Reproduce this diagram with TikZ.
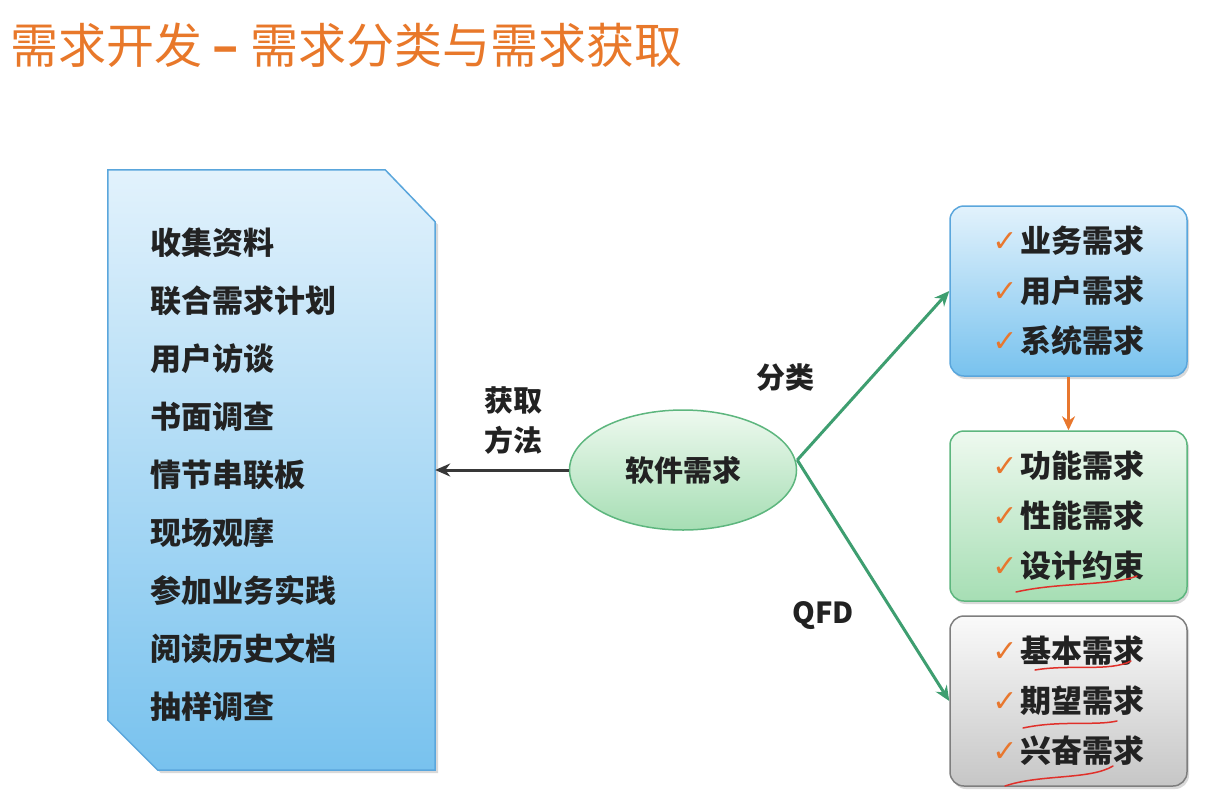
\documentclass[tikz,border=0pt]{standalone}
\usepackage{fontspec}
\setmainfont{Noto Sans CJK SC}
\newfontfamily\symfont{DejaVu Sans}
\usetikzlibrary{shapes.geometric, arrows.meta, positioning, shadows}

\definecolor{titleorange}{HTML}{E8782A}
\definecolor{textdark}{HTML}{222222}
\definecolor{chkorange}{HTML}{E8772E}
\definecolor{linegreen}{HTML}{3E9E70}
\definecolor{bluetop}{HTML}{E2F2FC}
\definecolor{bluebot}{HTML}{78C2EE}
\definecolor{blueedge}{HTML}{5AA6DC}
\definecolor{greentop}{HTML}{EEF9EF}
\definecolor{greenbot}{HTML}{A6DEB4}
\definecolor{greenedge}{HTML}{5DB67E}
\definecolor{graytop}{HTML}{FAFAFA}
\definecolor{graybot}{HTML}{C6C6C6}
\definecolor{grayedge}{HTML}{7E7E7E}
\definecolor{markred}{HTML}{E0302A}

\newcommand{\chk}{{\symfont\fontsize{30}{30}\selectfont\color{chkorange}\raisebox{1pt}{✓}}\hspace{3pt}}

\tikzset{
  catbox/.style={draw=#1, rounded corners=14pt, line width=1.5pt,
    minimum width=237pt, minimum height=170pt, align=left,
    text=textdark, font=\fontsize{31}{50}\selectfont\bfseries,
    drop shadow={shadow xshift=2pt, shadow yshift=-3pt, opacity=0.3}},
  itemtext/.style={text=textdark, font=\fontsize{31}{58}\selectfont\bfseries},
  edgelabel/.style={text=textdark, font=\fontsize{29}{40}\selectfont\bfseries, align=center},
  splitline/.style={linegreen, line width=3pt, -{Stealth[length=15pt,width=13pt]}},
  handmark/.style={markred, line width=1.5pt, line cap=round}
}

\begin{document}
\begin{tikzpicture}[x=1pt,y=-1pt]
\useasboundingbox (0,0) rectangle (1222,798);

% title
\node[anchor=west, text=titleorange, font=\fontsize{48}{48}\selectfont, inner sep=0pt]
  (title) at (10,45) {需求开发 {\bfseries–} 需求分类与需求获取};

% ways of getting requirements
\node[minimum width=327pt, minimum height=600pt, inner sep=0pt] (ways) at (271.5,470) {};
\path[draw=blueedge, line width=1.5pt, top color=bluetop, bottom color=bluebot,
      drop shadow={shadow xshift=3pt, shadow yshift=-3pt, opacity=0.3}]
  (ways.north west) -- ([xshift=-50pt]ways.north east) -- ([yshift=-52pt]ways.north east)
  -- (ways.south east) -- ([xshift=50pt]ways.south west) -- ([yshift=50pt]ways.south west) -- cycle;
\node[itemtext, anchor=west, align=left, inner sep=0pt] (list) at (150,475)
  {收集资料\\联合需求计划\\用户访谈\\书面调查\\情节串联板\\现场观摩\\参加业务实践\\阅读历史文档\\抽样调查};

% centre
\node[ellipse, draw=greenedge, line width=1.5pt, top color=greentop, bottom color=greenbot,
      minimum width=227pt, minimum height=120pt,
      font=\fontsize{29}{29}\selectfont\bfseries, text=textdark] (soft) at (683,470) {软件需求};

% categories
\node[catbox=blueedge, top color=bluetop, bottom color=bluebot] (cls) at (1068.5,291)
  {\chk 业务需求\\\chk 用户需求\\\chk 系统需求};
\node[catbox=greenedge, top color=greentop, bottom color=greenbot] (func) at (1068.5,516)
  {\chk 功能需求\\\chk 性能需求\\\chk 设计约束};
\node[catbox=grayedge, top color=graytop, bottom color=graybot] (qfd) at (1068.5,701)
  {\chk 基本需求\\\chk 期望需求\\\chk 兴奋需求};

% connectors
\draw[textdark!90, line width=3pt, -{Stealth[length=15pt,width=13pt]}]
  (soft.west) -- (soft.west -| ways.east);
\node[edgelabel] (getlbl) at (513,421) {获取\\方法};
\draw[splitline] ([yshift=10pt]soft.east) -- (cls.west);
\draw[splitline] ([yshift=10pt]soft.east) -- (qfd.west);
\node[edgelabel] (clslbl) at (785,378) {分类};
\node[edgelabel] (qfdlbl) at (823,616) {QFD};
\draw[chkorange, line width=3pt, -{Stealth[length=14pt,width=13pt]}]
  (cls.south) -- (func.north);

% hand marks
\draw[handmark] (1016,592) .. controls (1060,582) and (1110,586) .. (1137,576);
\draw[handmark] (1035,670) .. controls (1070,664) and (1110,672) .. (1131,661);
\draw[handmark] (1023,728) .. controls (1060,720) and (1095,726) .. (1117,721);
\draw[handmark] (1005,786) .. controls (1040,774) and (1090,780) .. (1113,766);
\end{tikzpicture}
\end{document}
